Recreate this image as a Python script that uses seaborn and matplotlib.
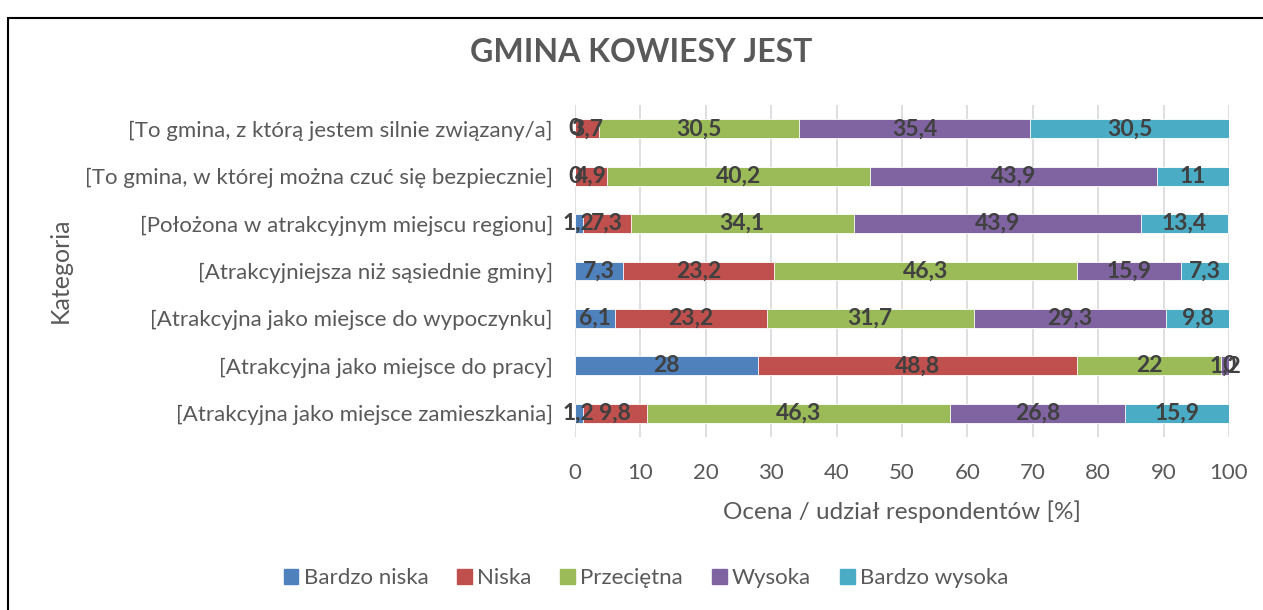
import numpy as np
import matplotlib
matplotlib.use("Agg")
import matplotlib.pyplot as plt
import matplotlib.patches as mpatches
import seaborn as sns

categories = [
    "[To gmina, z którą jestem silnie związany/a]",
    "[To gmina, w której można czuć się bezpiecznie]",
    "[Położona w atrakcyjnym miejscu regionu]",
    "[Atrakcyjniejsza niż sąsiednie gminy]",
    "[Atrakcyjna jako miejsce do wypoczynku]",
    "[Atrakcyjna jako miejsce do pracy]",
    "[Atrakcyjna jako miejsce zamieszkania]",
]
series = ["Bardzo niska", "Niska", "Przeciętna", "Wysoka", "Bardzo wysoka"]
bardzo_niska = [0, 0, 1.2, 7.3, 6.1, 28, 1.2]
niska = [3.7, 4.9, 7.3, 23.2, 23.2, 48.8, 9.8]
przecietna = [30.5, 40.2, 34.1, 46.3, 31.7, 22, 46.3]
wysoka = [35.4, 43.9, 43.9, 15.9, 29.3, 1.2, 26.8]
bardzo_wysoka = [30.5, 11, 13.4, 7.3, 9.8, 0, 15.9]
colors = ["#4F81BD", "#C0504D", "#9BBB59", "#8064A2", "#4BACC6"]

sns.set_theme(style="white")
plt.rcParams["font.family"] = ["Lato", "DejaVu Sans"]
txt = "#595959"

vals = np.array([bardzo_niska, niska, przecietna, wysoka, bardzo_wysoka]).T
cum = vals.cumsum(axis=1)

fig = plt.figure(figsize=(12.63, 6.10), dpi=100)
ax = fig.add_axes([575 / 1263, 1 - 437 / 610, 654 / 1263, 332 / 610])

# stacked bars: draw cumulative totals from the right-most segment backwards
for i in reversed(range(len(series))):
    sns.barplot(x=cum[:, i], y=categories, color=colors[i], width=0.4,
                orient="h", ax=ax, saturation=1, edgecolor="white", linewidth=0.6,
                zorder=2)


def fmt(v):
    s = ("%.1f" % v).rstrip("0").rstrip(".")
    return s.replace(".", ",")


for r in range(len(categories)):
    left = 0
    for i in range(len(series)):
        w = vals[r, i]
        ax.text(left + w / 2, r, fmt(w), ha="center", va="center",
                fontsize=16.5, fontweight="bold", color="#404040", zorder=3)
        left += w

ax.set_xlim(0, 100)
ax.set_xticks(range(0, 101, 10))
ax.xaxis.grid(True, color="#D9D9D9", linewidth=1.2, zorder=0)
ax.set_axisbelow(True)
for s in ax.spines.values():
    s.set_visible(False)
ax.tick_params(axis="both", length=0, labelsize=16, labelcolor=txt)
ax.tick_params(axis="x", pad=19)
ax.tick_params(axis="y", pad=16)
ax.set_xlabel("Ocena / udział respondentów [%]", fontsize=17.5, color=txt, labelpad=12)
ax.set_ylabel("")
fig.text(60 / 1263, 1 - 270 / 610, "Kategoria", rotation=90, ha="center", va="center",
         fontsize=18, color=txt)

fig.text(641 / 1263, 1 - 52 / 610, "GMINA KOWIESY JEST", ha="center", va="center",
         fontsize=23, fontweight="bold", color=txt)

handles = [mpatches.Patch(color=c, label=l) for c, l in zip(colors, series)]
fig.legend(handles=handles, loc="center", bbox_to_anchor=(646 / 1263, 1 - 578 / 610),
           ncol=5, frameon=False, fontsize=16, handlelength=0.65, handleheight=0.65,
           handletextpad=0.25, columnspacing=1.3, labelcolor=txt)

fig.patches.append(mpatches.Rectangle((8 / 1263, -0.05), 1.1, 1.05 - 18 / 610,
                                      transform=fig.transFigure, fill=False,
                                      edgecolor="black", linewidth=1.5))

fig.savefig("out.png", dpi=100)
